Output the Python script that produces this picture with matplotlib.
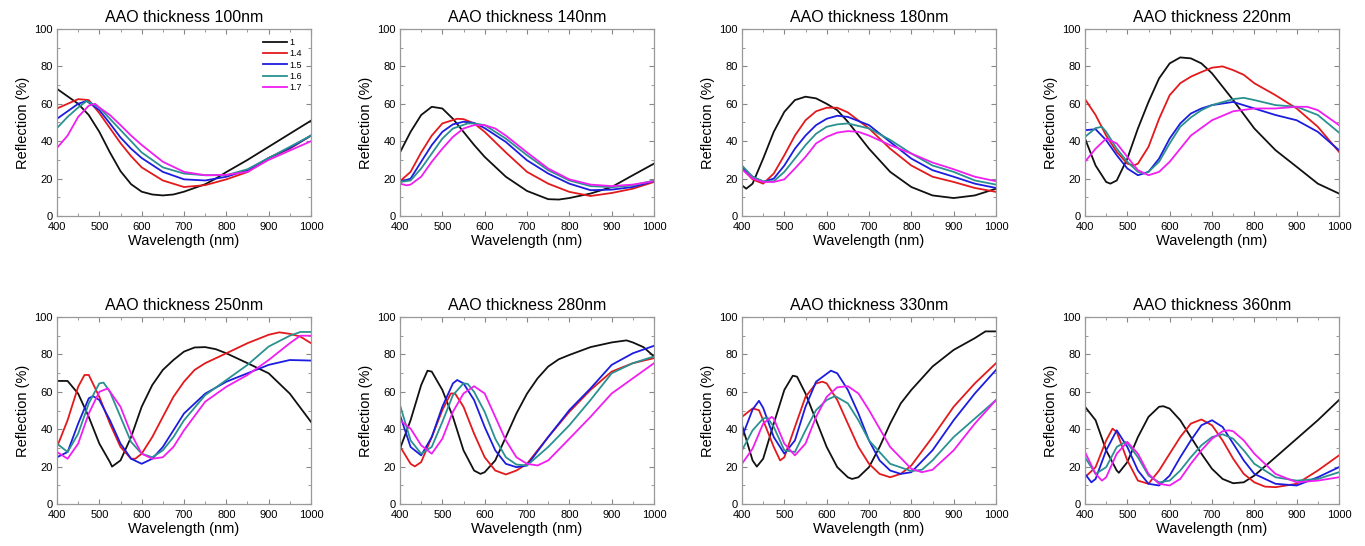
import matplotlib
matplotlib.use("Agg")
import matplotlib.pyplot as plt
from matplotlib.ticker import MultipleLocator

plt.rcParams['font.family'] = ['Liberation Sans', 'DejaVu Sans']

# curve labels (refractive index) and colours
labels = ['1', '1.4', '1.5', '1.6', '1.7']
colors = ['#111111', '#e3191c', '#1c1ce0', '#2a9191', '#f01ef0']

# ---- AAO thickness 100nm : (wavelength nm, reflection %)
r100_1 = [(400, 68), (425, 64), (450, 60), (475, 54), (500, 45), (525, 34), (550, 24), (575, 17),
          (600, 13), (625, 11.5), (650, 11), (675, 11.5), (700, 13), (725, 15), (750, 17), (775, 20),
          (800, 23.5), (850, 30), (900, 37), (950, 44), (1000, 51)]
r100_14 = [(400, 57.5), (425, 60), (450, 62.5), (475, 62), (500, 55), (525, 47), (550, 39), (575, 32),
           (600, 26), (650, 19), (700, 15.5), (750, 16.5), (800, 19.6), (850, 23.5), (900, 31),
           (950, 36), (1000, 43)]
r100_15 = [(400, 52), (425, 56), (450, 60), (470, 61.5), (500, 56.6), (525, 49.5), (550, 42), (575, 36),
           (600, 31), (650, 23.6), (700, 19.6), (750, 19), (800, 21), (850, 24.5), (900, 31),
           (950, 36.4), (1000, 43)]
r100_16 = [(400, 47), (425, 53), (450, 58), (470, 61.5), (500, 58), (525, 52), (550, 46), (575, 40),
           (600, 34), (650, 26), (700, 22.7), (750, 21.8), (800, 21.8), (850, 25), (900, 31),
           (950, 37), (1000, 43)]
r100_17 = [(400, 36.4), (425, 43), (450, 53), (475, 59), (490, 60), (500, 58), (525, 54), (550, 48.6),
           (575, 43), (600, 38), (650, 29), (700, 23.6), (750, 21.8), (800, 22), (850, 23.6), (900, 30),
           (950, 35), (1000, 40)]

# ---- AAO thickness 140nm
r140_1 = [(400, 34), (425, 45), (450, 54), (475, 58.4), (500, 57.5), (525, 52), (550, 45), (575, 38),
          (600, 31.6), (650, 21), (700, 13.4), (750, 9), (775, 8.8), (800, 9.6), (850, 12), (900, 15.5),
          (950, 21.8), (1000, 28)]
r140_14 = [(400, 18.6), (425, 23.6), (450, 34), (475, 43), (500, 49.5), (535, 52), (550, 51.8),
           (575, 49.5), (600, 45), (650, 34), (700, 23.6), (750, 17.3), (800, 12.9), (850, 10.7),
           (900, 12.3), (950, 14.6), (1000, 18.2)]
r140_15 = [(400, 18.2), (425, 20), (450, 29), (475, 37.9), (500, 45), (525, 49), (550, 50.4),
           (575, 49.8), (600, 47), (650, 39.6), (700, 29.8), (750, 22.7), (800, 17.3), (850, 13.8),
           (900, 14.1), (950, 15.5), (1000, 18.6)]
r140_16 = [(400, 18.2), (425, 19), (450, 25.4), (475, 33.4), (500, 41.4), (525, 46.8), (560, 49.5),
           (575, 49.5), (600, 48.6), (650, 41.4), (700, 32.5), (750, 24.5), (800, 19), (850, 16),
           (900, 15.4), (950, 16.4), (1000, 19)]
r140_17 = [(400, 17.3), (415, 16.4), (425, 16.8), (450, 21), (475, 29), (500, 36), (525, 42.3),
           (550, 46.8), (575, 48.6), (600, 48.6), (625, 46.8), (650, 43), (700, 34), (750, 25.4),
           (800, 19.6), (850, 16.8), (900, 16), (950, 16.8), (1000, 18.6)]

# ---- AAO thickness 180nm
r180_1 = [(400, 16.4), (410, 14.6), (425, 17.3), (450, 30.7), (475, 45), (500, 55.7), (525, 62),
          (550, 63.8), (575, 62.9), (600, 60), (625, 56.6), (650, 50.4), (700, 36), (750, 23.6),
          (800, 15.5), (850, 11), (900, 9.6), (950, 11), (1000, 14.6)]
r180_14 = [(400, 25.4), (425, 19.6), (450, 17.3), (475, 22.7), (500, 32.5), (525, 43), (550, 51.2),
           (575, 56), (600, 57.9), (625, 57.9), (650, 55.4), (700, 46.8), (750, 36), (800, 27),
           (850, 21), (900, 18.2), (950, 15), (1000, 12.9)]
r180_15 = [(400, 25.7), (425, 21), (450, 18.2), (475, 20), (500, 27), (525, 36), (550, 43),
           (575, 48.6), (600, 52), (625, 53.6), (650, 53), (700, 48.6), (750, 39.6), (800, 30.7),
           (850, 24.5), (900, 21), (950, 17.3), (1000, 15)]
r180_16 = [(400, 27), (425, 21), (450, 18.6), (475, 18.6), (500, 23.6), (525, 30.7), (550, 37.9),
           (575, 44), (600, 47.7), (625, 49), (650, 49.5), (700, 46.8), (750, 40.7), (800, 33.4),
           (850, 27), (900, 23.6), (950, 19), (1000, 16.8)]
r180_17 = [(400, 25), (425, 20), (450, 18.2), (475, 18.2), (500, 19.6), (525, 25.4), (550, 31.6),
           (575, 38.8), (600, 42.3), (625, 44.6), (650, 45.4), (675, 45), (700, 43), (750, 37.9),
           (800, 33.4), (850, 28.6), (900, 25), (950, 21), (1000, 18.6)]

# ---- AAO thickness 220nm
r220_1 = [(400, 41.4), (425, 27), (450, 18.2), (460, 17.3), (475, 19), (500, 30.7), (525, 46.8),
          (550, 61), (575, 73.6), (600, 81.6), (625, 84.8), (650, 84.3), (675, 81.6), (700, 76.3),
          (750, 62), (800, 46.8), (850, 35.2), (900, 26.3), (950, 17.3), (1000, 12)]
r220_14 = [(400, 62.5), (425, 54), (450, 43), (475, 34.3), (500, 28), (515, 27), (525, 28), (550, 37),
           (575, 52), (600, 64.6), (625, 71), (650, 74.5), (675, 77), (700, 79.3), (725, 80),
           (750, 78), (775, 75.5), (800, 71), (850, 64.6), (900, 57.5), (950, 47.7), (1000, 34.3)]
r220_15 = [(400, 45.9), (425, 46.4), (450, 40.5), (475, 32.5), (500, 25.4), (525, 21.8), (550, 23.6),
           (575, 30.7), (600, 41.4), (625, 49.5), (650, 54.8), (675, 57.5), (700, 59.3), (750, 61),
           (800, 57.5), (850, 54), (900, 51.2), (950, 45), (1000, 35.2)]
r220_16 = [(400, 42.3), (425, 47), (440, 47.7), (450, 45), (475, 36), (500, 29), (525, 23.6),
           (540, 22.7), (550, 23.6), (575, 29), (600, 38.8), (625, 47.7), (650, 52.7), (675, 56.6),
           (700, 59.3), (750, 62.5), (775, 63.2), (800, 62), (850, 59.3), (900, 58.4), (950, 54),
           (1000, 44.6)]
r220_17 = [(400, 29), (425, 36), (450, 41.4), (475, 38.8), (500, 31.6), (525, 24.5), (550, 21.8),
           (575, 23.6), (600, 29), (625, 36), (650, 43), (700, 51.2), (750, 56), (800, 57.5),
           (850, 57.5), (900, 58.4), (925, 58.4), (950, 56.6), (1000, 48.6)]

# ---- AAO thickness 250nm
r250_1 = [(400, 65.8), (425, 65.8), (450, 59), (475, 46.6), (500, 32.3), (525, 22.4), (530, 20),
          (550, 23.3), (575, 35.8), (600, 52), (625, 63.6), (650, 71.7), (675, 77), (700, 81.5),
          (725, 83.7), (750, 83.9), (775, 82.8), (800, 80.6), (850, 75.3), (900, 69.9), (950, 59),
          (1000, 43.9)]
r250_14 = [(400, 30.5), (425, 44.8), (450, 62.7), (465, 69), (475, 69), (500, 57.3), (525, 43),
           (550, 30.5), (575, 24.2), (585, 24.2), (600, 26.9), (625, 35.8), (650, 46.6), (675, 57.3),
           (700, 65.4), (725, 71.7), (750, 75.3), (800, 80.6), (850, 86), (900, 90.5), (925, 91.8),
           (950, 91), (975, 89.5), (1000, 86)]
r250_15 = [(400, 25), (425, 27.8), (450, 43), (475, 56.5), (485, 57.7), (500, 55.6), (525, 44.8),
           (550, 32.3), (575, 24.2), (600, 21.5), (625, 24.2), (650, 30.5), (675, 39.4), (700, 48.4),
           (750, 59), (800, 65.4), (850, 69.9), (900, 74.4), (950, 77), (1000, 76.7)]
r250_16 = [(400, 32.3), (425, 27.8), (450, 37.6), (475, 53.8), (500, 64.5), (510, 64.9), (525, 60),
           (550, 46.6), (575, 33.2), (600, 26.9), (625, 25), (650, 28.7), (675, 35.8), (700, 44.8),
           (750, 58.2), (800, 66.3), (850, 74.4), (900, 84.2), (950, 90), (975, 92), (1000, 92)]
r250_17 = [(400, 27.8), (425, 24.2), (450, 32.3), (475, 48.4), (500, 60), (520, 61.8), (550, 52),
           (575, 37.6), (600, 26.9), (625, 24.2), (650, 25), (675, 30.5), (700, 39.4), (750, 54.7),
           (800, 62.7), (850, 69), (900, 77), (950, 86), (975, 90), (1000, 90)]

# ---- AAO thickness 280nm
r280_1 = [(400, 29.6), (425, 44.8), (450, 63.6), (465, 71.3), (475, 70.8), (500, 61), (525, 46.6),
          (550, 28.7), (575, 17.9), (590, 16.1), (600, 17), (625, 23.3), (650, 35.8), (675, 48.4),
          (700, 59), (725, 67.2), (750, 73.5), (775, 77.4), (800, 79.7), (850, 83.9), (900, 86.4),
          (935, 87.5), (950, 86.4), (975, 83.9), (1000, 78.9)]
r280_14 = [(400, 30.8), (425, 21.5), (435, 20.1), (450, 22.4), (475, 35.8), (500, 50.2), (520, 59.1),
           (530, 59.1), (550, 52), (575, 37.6), (600, 25), (625, 17.9), (650, 15.8), (675, 17.9),
           (700, 21.5), (725, 28.7), (750, 35.8), (800, 49.3), (850, 61), (900, 70.8), (950, 75.3),
           (1000, 78)]
r280_15 = [(400, 47.5), (425, 30.5), (450, 26), (475, 35.8), (500, 52), (525, 64.5), (535, 66.3),
           (550, 64.5), (575, 55.6), (600, 41.2), (625, 28.7), (650, 21.5), (675, 19.7), (700, 20.6),
           (750, 35.8), (800, 50.2), (850, 61.8), (900, 74.4), (950, 80.6), (1000, 84.6)]
r280_16 = [(400, 52.9), (425, 34), (450, 26.9), (475, 30.5), (500, 43.9), (525, 58.2), (550, 64.5),
           (560, 64.2), (575, 60), (600, 49.3), (625, 34.9), (650, 25), (675, 21.1), (700, 20.6),
           (750, 30.5), (800, 42.1), (850, 55.6), (900, 69.9), (950, 75.3), (1000, 78.9)]
r280_17 = [(400, 44.8), (425, 40.3), (450, 31.4), (475, 26.9), (500, 34.9), (525, 49.3), (550, 59.1),
           (575, 63), (600, 59.1), (625, 46.6), (650, 34), (675, 25), (700, 21.5), (725, 20.6),
           (750, 23.3), (800, 34.9), (850, 46.6), (900, 59.1), (950, 67.2), (1000, 75.3)]

# ---- AAO thickness 330nm
r330_1 = [(400, 42.1), (425, 23.3), (435, 20), (450, 24.2), (475, 43), (500, 61), (520, 68.6),
          (530, 68.1), (550, 59.1), (575, 44.8), (600, 30.5), (625, 19.7), (650, 14.3), (660, 13.4),
          (675, 14.3), (700, 19.7), (725, 30.5), (750, 43), (775, 53.8), (800, 61), (850, 73.5),
          (900, 82.4), (950, 88.7), (975, 92.3), (1000, 92.3)]
r330_14 = [(400, 46.6), (425, 51.1), (440, 50.2), (450, 44.8), (475, 30.5), (490, 23.3), (500, 25),
           (525, 41.2), (550, 57.3), (575, 64.5), (590, 65.4), (600, 64.5), (625, 55.6), (650, 43),
           (675, 30.5), (700, 21.5), (725, 16.1), (750, 14.3), (775, 16.1), (800, 20.6), (850, 35.8),
           (900, 52), (950, 64.5), (1000, 75.3)]
r330_15 = [(400, 35.8), (425, 50.5), (440, 55.2), (450, 51.4), (475, 35.8), (500, 26.9), (525, 34),
           (550, 52), (575, 65.4), (610, 71.3), (625, 69.9), (650, 61), (675, 48.4), (700, 34),
           (725, 23.3), (750, 17.9), (775, 16.1), (800, 17), (850, 28.7), (900, 44.8), (950, 59.1),
           (1000, 71.7)]
r330_16 = [(400, 28.7), (425, 39.4), (450, 45.7), (460, 46.2), (475, 41.2), (500, 28.7), (525, 27.8),
           (550, 39.4), (575, 50.2), (600, 55.6), (620, 57.7), (650, 53.8), (675, 44.8), (700, 34),
           (750, 21.5), (800, 17.6), (825, 18.3), (850, 23.3), (900, 35.8), (950, 45.7), (1000, 55.6)]
r330_17 = [(400, 21.5), (425, 29.6), (450, 43), (470, 46.6), (475, 45.7), (500, 32.3), (525, 26),
           (550, 32.3), (575, 46.6), (600, 57.3), (625, 62.4), (650, 63), (675, 59.1), (700, 50.2),
           (750, 30.5), (800, 18.8), (825, 17), (850, 18.3), (900, 28.7), (950, 43), (1000, 55.6)]

# ---- AAO thickness 360nm
r360_1 = [(400, 52), (425, 44.8), (450, 28.7), (475, 17.9), (480, 16.7), (500, 22.4), (525, 35.8),
          (550, 46.6), (575, 52), (585, 52.3), (600, 51), (625, 44.8), (650, 35.8), (675, 26.9),
          (700, 18.8), (725, 13.4), (750, 11.1), (775, 11.6), (800, 15.2), (850, 25), (900, 34.9),
          (950, 44.8), (1000, 55.6)]
r360_14 = [(400, 14.3), (425, 19.7), (450, 34), (465, 40.3), (475, 38.5), (500, 23.3), (525, 12.5),
           (550, 10.8), (575, 17.9), (600, 26.9), (625, 35.8), (650, 43), (675, 45.2), (700, 42.1),
           (725, 34), (750, 24.2), (775, 16.1), (800, 11.6), (825, 9.3), (850, 9), (900, 10.8),
           (950, 17.9), (1000, 26)]
r360_15 = [(400, 16.1), (415, 11.6), (425, 13.4), (450, 28.7), (475, 39.4), (500, 30.5), (525, 17.9),
           (550, 10.8), (575, 9.9), (600, 15.2), (625, 25), (650, 34), (675, 42.1), (700, 44.8),
           (725, 41.2), (750, 32.3), (775, 23.3), (800, 16.1), (850, 10.8), (900, 9.9), (950, 14.3),
           (1000, 19.7)]
r360_16 = [(400, 25), (425, 16.1), (450, 19.7), (475, 30.5), (495, 33.2), (500, 32.6), (525, 25),
           (550, 15.2), (575, 11.6), (600, 12.5), (625, 17.9), (650, 25), (675, 31.4), (700, 35.8),
           (725, 37.3), (750, 34.9), (775, 28.7), (800, 21.5), (850, 14.3), (900, 12.5), (950, 13.4),
           (1000, 17)]
r360_17 = [(400, 27.8), (425, 16.1), (440, 12.5), (450, 14.3), (475, 26.9), (500, 33.2), (525, 26.9),
           (550, 16.1), (575, 10.8), (600, 9.9), (625, 13.4), (650, 21.5), (675, 28.7), (700, 34.9),
           (725, 38.9), (740, 39.4), (750, 38.9), (775, 34), (800, 26.9), (850, 16.1), (900, 11.6),
           (950, 12.5), (1000, 14.3)]

thickness = [100, 140, 180, 220, 250, 280, 330, 360]
panels = [
    [r100_1, r100_14, r100_15, r100_16, r100_17],
    [r140_1, r140_14, r140_15, r140_16, r140_17],
    [r180_1, r180_14, r180_15, r180_16, r180_17],
    [r220_1, r220_14, r220_15, r220_16, r220_17],
    [r250_1, r250_14, r250_15, r250_16, r250_17],
    [r280_1, r280_14, r280_15, r280_16, r280_17],
    [r330_1, r330_14, r330_15, r330_16, r330_17],
    [r360_1, r360_14, r360_15, r360_16, r360_17],
]

W, H = 1365, 546
fig = plt.figure(figsize=(W / 100, H / 100), dpi=100)

lefts = [57, 400, 742, 1085]
tops = [29, 317]
aw, ah = 254, 187

for i, t in enumerate(thickness):
    row, col = divmod(i, 4)
    ax = fig.add_axes([lefts[col] / W, 1 - (tops[row] + ah) / H, aw / W, ah / H])
    for curve, c, lab in zip(panels[i], colors, labels):
        x = [p[0] for p in curve]
        y = [p[1] for p in curve]
        ax.plot(x, y, color=c, lw=1.3, label=lab)
    ax.set_xlim(400, 1000)
    ax.set_ylim(0, 100)
    ax.xaxis.set_major_locator(MultipleLocator(100))
    ax.xaxis.set_minor_locator(MultipleLocator(50))
    ax.yaxis.set_major_locator(MultipleLocator(20))
    ax.yaxis.set_minor_locator(MultipleLocator(10))
    ax.tick_params(which='both', direction='in', top=True, right=True,
                   color='#888888', labelsize=8)
    ax.tick_params(axis='x', pad=4)
    ax.tick_params(axis='y', pad=3)
    ax.tick_params(which='major', length=3.5)
    ax.tick_params(which='minor', length=2)
    for s in ax.spines.values():
        s.set_color('#999999')
        s.set_linewidth(0.9)
    ax.set_title('AAO thickness %dnm' % t, fontsize=11.5, pad=5)
    ax.set_xlabel('Wavelength (nm)', fontsize=10.5, labelpad=2)
    ax.set_ylabel('Reflection (%)', fontsize=10.5, labelpad=3)
    if i == 0:
        ax.legend(loc='upper right', frameon=False, fontsize=6.5, handlelength=2.6,
                  handletextpad=0.3, labelspacing=0.25, borderaxespad=0.6)

fig.savefig('out.png', dpi=100)
